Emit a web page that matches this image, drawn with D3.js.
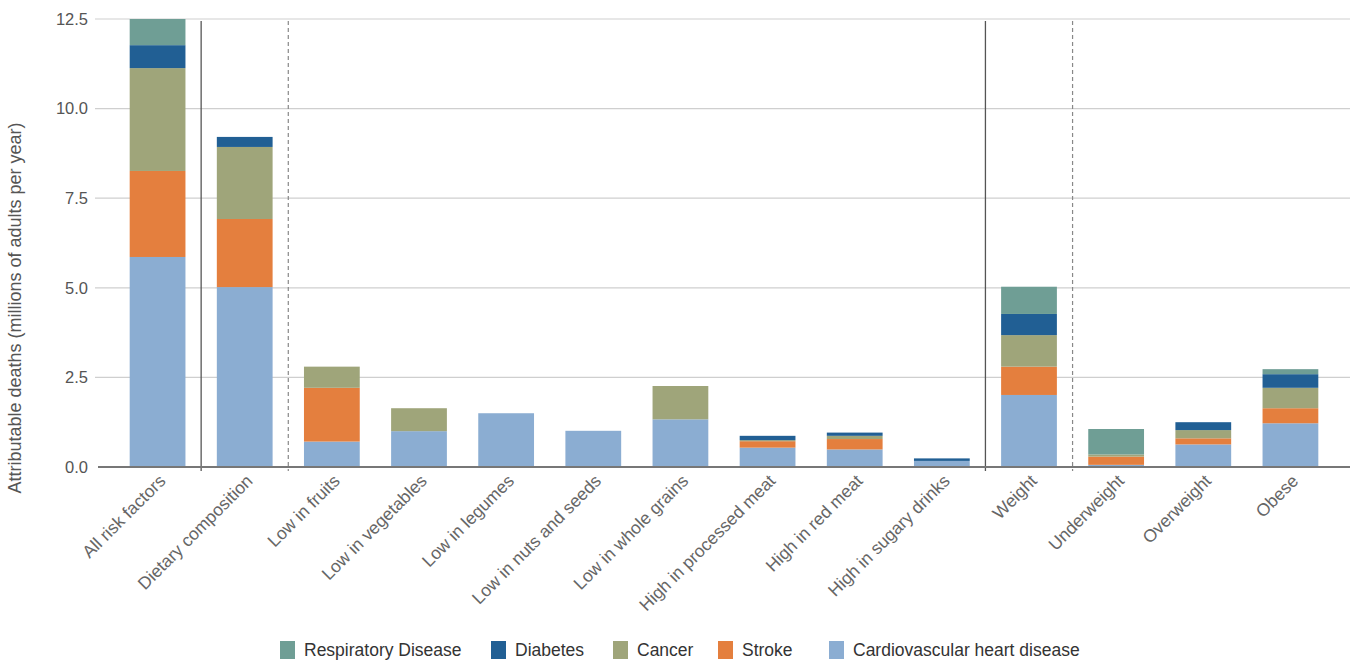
<!DOCTYPE html>
<html>
<head>
<meta charset="utf-8">
<script src="https://cdn.jsdelivr.net/npm/d3@7"></script>
<style>
    body { margin: 0; background: #fff; }
    #chart-area { width: 1356px; height: 663px; }
    text { font-family: "Liberation Sans", Arial, sans-serif; }
</style>
</head>
<body>
<div id="chart-area"></div>
<script>
/* * * * * * * * * * * * * *
*   risk factor bars        *
* * * * * * * * * * * * * */

const categories = ["All risk factors", "Dietary composition", "Low in fruits", "Low in vegetables",
    "Low in legumes", "Low in nuts and seeds", "Low in whole grains", "High in processed meat",
    "High in red meat", "High in sugary drinks", "Weight", "Underweight", "Overweight", "Obese"];

// stacked from the bottom up
const cardiovascular = [5.86, 5.02, 0.71, 1.00, 1.50, 1.01, 1.33, 0.54, 0.49, 0.17, 2.01, 0.06, 0.63, 1.22];
const stroke         = [2.40, 1.90, 1.50, 0.00, 0.00, 0.00, 0.00, 0.18, 0.29, 0.00, 0.79, 0.23, 0.17, 0.42];
const cancer         = [2.87, 2.01, 0.59, 0.64, 0.00, 0.00, 0.93, 0.03, 0.09, 0.00, 0.88, 0.06, 0.23, 0.57];
const diabetes       = [0.64, 0.28, 0.00, 0.00, 0.00, 0.00, 0.00, 0.12, 0.09, 0.07, 0.59, 0.00, 0.22, 0.38];
const respiratory    = [0.73, 0.00, 0.00, 0.00, 0.00, 0.00, 0.00, 0.00, 0.00, 0.00, 0.76, 0.71, 0.00, 0.14];

const yTicks = [0, 2.5, 5, 7.5, 10, 12.5];

// group separators: after which category
const solidAfter = ["All risk factors", "High in sugary drinks"];
const dashedAfter = ["Dietary composition", "Weight"];

const seriesKeys = ["Cardiovascular heart disease", "Stroke", "Cancer", "Diabetes", "Respiratory Disease"];
const seriesColors = ["#8badd2", "#e47f3e", "#9fa57a", "#215f94", "#6f9e95"];
const legendOrder = ["Respiratory Disease", "Diabetes", "Cancer", "Stroke", "Cardiovascular heart disease"];


class StackedBarVis {

    constructor(parentElement) {
        this.parentElement = parentElement;
        this.initVis();
    }

    initVis () {
        let vis = this;

        vis.margin = {top: 19, left: 98, right: 6, bottom: 196};
        vis.width = 1356 - vis.margin.left - vis.margin.right;
        vis.height = 663 - vis.margin.top - vis.margin.bottom;

        vis.root = d3.select("#" + vis.parentElement).append("svg")
            .attr("width", 1356)
            .attr("height", 663);

        vis.svg = vis.root.append("g")
            .attr("transform", `translate(${vis.margin.left}, ${vis.margin.top})`);

        vis.x = d3.scaleBand()
            .domain(categories)
            .range([16, vis.width - 16])
            .paddingInner(0.36)
            .paddingOuter(0.18);

        vis.y = d3.scaleLinear()
            .domain([0, 12.5])
            .range([vis.height, 0]);

        vis.color = d3.scaleOrdinal()
            .domain(seriesKeys)
            .range(seriesColors);

        vis.svg.append("defs").append("clipPath")
            .attr("id", "plot-clip")
            .append("rect")
            .attr("x", 0).attr("y", 0)
            .attr("width", vis.width).attr("height", vis.height);

        vis.wrangleData();
    }

    wrangleData () {
        let vis = this;

        vis.rows = categories.map((c, i) => ({
            category: c,
            "Cardiovascular heart disease": cardiovascular[i],
            "Stroke": stroke[i],
            "Cancer": cancer[i],
            "Diabetes": diabetes[i],
            "Respiratory Disease": respiratory[i]
        }));

        vis.stacked = d3.stack().keys(seriesKeys)(vis.rows);

        vis.updateVis();
    }

    updateVis () {
        let vis = this;

        // gridlines (poke out a little left of the plot like small ticks)
        vis.svg.append("g")
            .attr("class", "grid")
            .selectAll("line")
            .data(yTicks.filter(d => d > 0))
            .enter()
            .append("line")
            .attr("x1", -3)
            .attr("x2", vis.width)
            .attr("y1", d => vis.y(d))
            .attr("y2", d => vis.y(d))
            .attr("stroke", "#cfcfcf")
            .attr("stroke-width", 1.2);

        // y axis labels
        let yAxis = d3.axisLeft(vis.y)
            .tickValues(yTicks)
            .tickSize(0)
            .tickPadding(10)
            .tickFormat(d3.format(".1f"));

        let yg = vis.svg.append("g").call(yAxis);
        yg.select(".domain").remove();
        yg.selectAll("text")
            .style("font-size", "16.5px")
            .attr("fill", "#555");

        // y axis title
        vis.root.append("text")
            .attr("transform", `translate(21, ${vis.margin.top + vis.height / 2 + 65}) rotate(-90)`)
            .attr("text-anchor", "middle")
            .style("font-size", "18px")
            .attr("fill", "#555")
            .text("Attributable deaths (millions of adults per year)");

        // stacked bars
        vis.svg.append("g")
            .attr("clip-path", "url(#plot-clip)")
            .selectAll(".layer")
            .data(vis.stacked)
            .enter()
            .append("g")
            .attr("class", "layer")
            .attr("fill", d => vis.color(d.key))
            .selectAll("rect")
            .data(d => d.filter(s => s[1] - s[0] > 0))
            .enter()
            .append("rect")
            .attr("x", d => vis.x(d.data.category))
            .attr("y", d => vis.y(d[1]))
            .attr("width", vis.x.bandwidth())
            .attr("height", d => vis.y(d[0]) - vis.y(d[1]));

        // group separators
        let boundary = c => vis.x(c) + vis.x.bandwidth() + vis.x.step() * vis.x.paddingInner() / 2;

        vis.svg.selectAll(".sep-solid")
            .data(solidAfter)
            .enter()
            .append("line")
            .attr("class", "sep-solid")
            .attr("x1", d => boundary(d))
            .attr("x2", d => boundary(d))
            .attr("y1", 2)
            .attr("y2", vis.height + 4)
            .attr("stroke", "#555")
            .attr("stroke-width", 1.3);

        vis.svg.selectAll(".sep-dashed")
            .data(dashedAfter)
            .enter()
            .append("line")
            .attr("class", "sep-dashed")
            .attr("x1", d => boundary(d))
            .attr("x2", d => boundary(d))
            .attr("y1", 2)
            .attr("y2", vis.height + 4)
            .attr("stroke", "#888")
            .attr("stroke-width", 1.2)
            .attr("stroke-dasharray", "4,3");

        // baseline
        vis.svg.append("line")
            .attr("x1", 0)
            .attr("x2", vis.width)
            .attr("y1", vis.height)
            .attr("y2", vis.height)
            .attr("stroke", "#777")
            .attr("stroke-width", 2);

        // category labels
        vis.svg.selectAll(".cat-label")
            .data(categories)
            .enter()
            .append("text")
            .attr("class", "cat-label")
            .attr("text-anchor", "end")
            .attr("transform", d => `translate(${vis.x(d) + vis.x.bandwidth() / 2 + 9}, ${vis.height + 15}) rotate(-45)`)
            .style("font-size", "17.5px")
            .attr("fill", "#666")
            .text(d => d);

        // legend
        let legendX = [280, 491, 613, 718, 829];
        let legend = vis.root.append("g")
            .selectAll(".legend-item")
            .data(legendOrder)
            .enter()
            .append("g")
            .attr("class", "legend-item")
            .attr("transform", (d, i) => `translate(${legendX[i]}, 641)`);

        legend.append("rect")
            .attr("width", 15)
            .attr("height", 18)
            .attr("fill", d => vis.color(d));

        legend.append("text")
            .attr("x", 24)
            .attr("y", 15)
            .style("font-size", "17.5px")
            .attr("fill", "#333")
            .text(d => d);
    }
}

let myStackedBarVis = new StackedBarVis("chart-area");
</script>
</body>
</html>
